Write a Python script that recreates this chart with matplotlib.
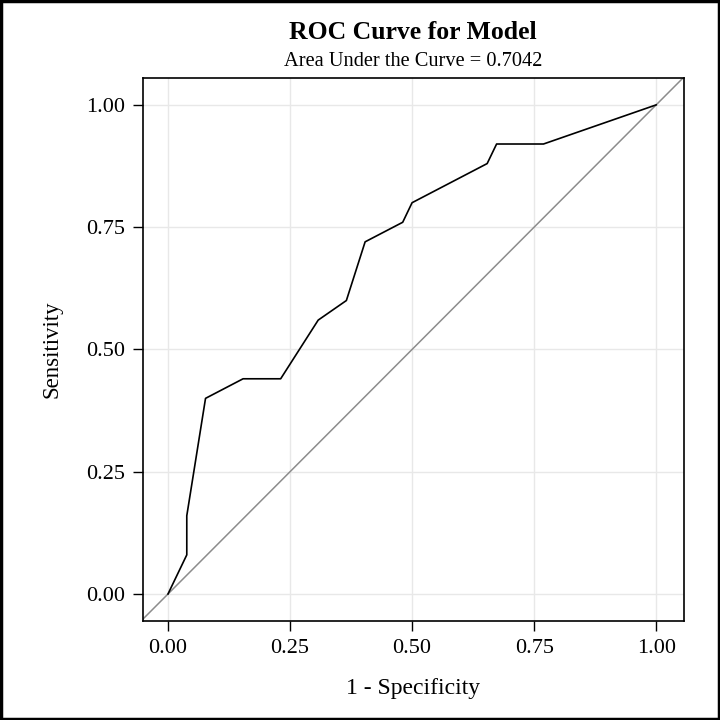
"""
ROC curve for model, SAS-style layout.
"""

import matplotlib
matplotlib.use("Agg")
import matplotlib.pyplot as plt
from matplotlib.patches import Rectangle

# =========================================================
# Data
# =========================================================
fpr = [0.0, 0.0385, 0.0385, 0.0769, 0.1538, 0.2308, 0.3077, 0.3654,
       0.4038, 0.4808, 0.5, 0.6538, 0.6731, 0.7692, 1.0]
tpr = [0.0, 0.08, 0.16, 0.40, 0.44, 0.44, 0.56, 0.60,
       0.72, 0.76, 0.80, 0.88, 0.92, 0.92, 1.0]
ticks = [0.0, 0.25, 0.5, 0.75, 1.0]
tick_labels = ["0.00", "0.25", "0.50", "0.75", "1.00"]
auc = 0.7042

plt.rcParams["font.family"] = ["Liberation Serif", "DejaVu Serif"]

# =========================================================
# Plot
# =========================================================
fig = plt.figure(figsize=(7.2, 7.2), dpi=100)
ax = fig.add_axes([0.1986, 0.1375, 0.7514, 0.7542])

ax.grid(True, color="#e8e8e8", linewidth=1.0)
ax.set_axisbelow(True)

ax.axline((0, 0), (1, 1), color="#8c8c8c", linewidth=1.1)
ax.plot(fpr, tpr, color="black", linewidth=1.2)

ax.set_xlim(-0.0512, 1.057)
ax.set_ylim(-0.0552, 1.055)
ax.set_xticks(ticks)
ax.set_xticklabels(tick_labels)
ax.set_yticks(ticks)
ax.set_yticklabels(tick_labels)
ax.tick_params(direction="out", length=7, width=1.0, labelsize=16,
               pad=6, color="black")

for sp in ax.spines.values():
    sp.set_linewidth(1.2)

ax.set_xlabel("1 - Specificity", fontsize=17, va="center")
ax.xaxis.set_label_coords(0.5, -0.1234)
ax.set_ylabel("Sensitivity", fontsize=16.5, va="center")
ax.yaxis.set_label_coords(-0.168, 0.5)

fig.text(0.574, 0.955, "ROC Curve for Model", ha="center", va="center",
         fontsize=18.5, fontweight="bold")
fig.text(0.574, 0.915, f"Area Under the Curve = {auc:.4f}", ha="center",
         va="center", fontsize=14.7)

# outer frame
fig.patches.append(Rectangle((0.002, 0.002), 0.996, 0.996,
                             transform=fig.transFigure, fill=False,
                             edgecolor="black", linewidth=2.5))

fig.savefig("out.png", dpi=100)
